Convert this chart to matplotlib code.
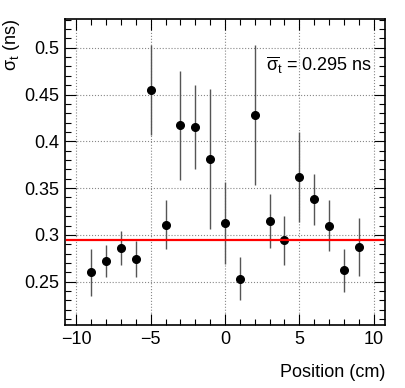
import matplotlib
matplotlib.use("Agg")
import matplotlib.pyplot as plt
from matplotlib.ticker import MultipleLocator

plt.rcParams['font.family'] = ['Liberation Sans', 'DejaVu Sans']
plt.rcParams['mathtext.fontset'] = 'custom'
plt.rcParams['mathtext.rm'] = 'Liberation Sans'
plt.rcParams['mathtext.it'] = 'Liberation Sans'

positions = [-9, -8, -7, -6, -5, -4, -3, -2, -1, 0, 1, 2, 3, 4, 5, 6, 7, 8, 9]
sigma_t = [0.260, 0.272, 0.286, 0.274, 0.455, 0.311, 0.417, 0.415, 0.381, 0.313,
           0.253, 0.428, 0.315, 0.294, 0.362, 0.338, 0.310, 0.262, 0.287]
sigma_err = [0.025, 0.017, 0.018, 0.019, 0.048, 0.026, 0.058, 0.045, 0.075, 0.044,
             0.023, 0.075, 0.029, 0.026, 0.048, 0.027, 0.027, 0.023, 0.031]
mean_sigma = 0.295

fig = plt.figure(figsize=(4.06, 3.88), dpi=100)
ax = fig.add_axes([65/406, 1 - 325/388, 320/406, 306/388])

ax.errorbar(positions, sigma_t, yerr=sigma_err, fmt='o', color='black',
            ecolor='#555555', elinewidth=1.0, markersize=5.5, capsize=0, zorder=3)
ax.plot([-10.65, 10.65], [mean_sigma, mean_sigma], color='red', lw=1.6, zorder=4)

ax.set_xlim(-10.77, 10.77)
ax.set_ylim(0.2037, 0.5307)

ax.xaxis.set_major_locator(MultipleLocator(5))
ax.xaxis.set_minor_locator(MultipleLocator(1))
ax.yaxis.set_major_locator(MultipleLocator(0.05))
ax.yaxis.set_minor_locator(MultipleLocator(0.01))
ax.yaxis.set_major_formatter(plt.FuncFormatter(lambda v, p: f"{v:.2f}".rstrip('0').rstrip('.') if v else "0"))
ax.xaxis.set_major_formatter(plt.FuncFormatter(lambda v, p: f"{int(round(v))}".replace('-', '\u2212')))

ax.tick_params(which='both', direction='in', top=True, right=True, labelsize=13, width=0.8)
ax.tick_params(which='major', length=8, pad=4)
ax.tick_params(which='minor', length=4)
for s in ax.spines.values():
    s.set_linewidth(1.2)

ax.grid(True, which='major', linestyle=':', color='#888888', linewidth=0.8)

ax.set_xlabel('Position (cm)', fontsize=13, loc='right', labelpad=12)
ax.set_ylabel(r'$\sigma_{t}$ (ns)', fontsize=13, loc='top')
ax.yaxis.set_label_coords(-0.134, 1.0)

ax.text(0.96, 0.85, r'$\overline{\sigma}_{t}$ = 0.295 ns', transform=ax.transAxes,
        ha='right', va='center', fontsize=13)

fig.savefig('out.png', dpi=100)
